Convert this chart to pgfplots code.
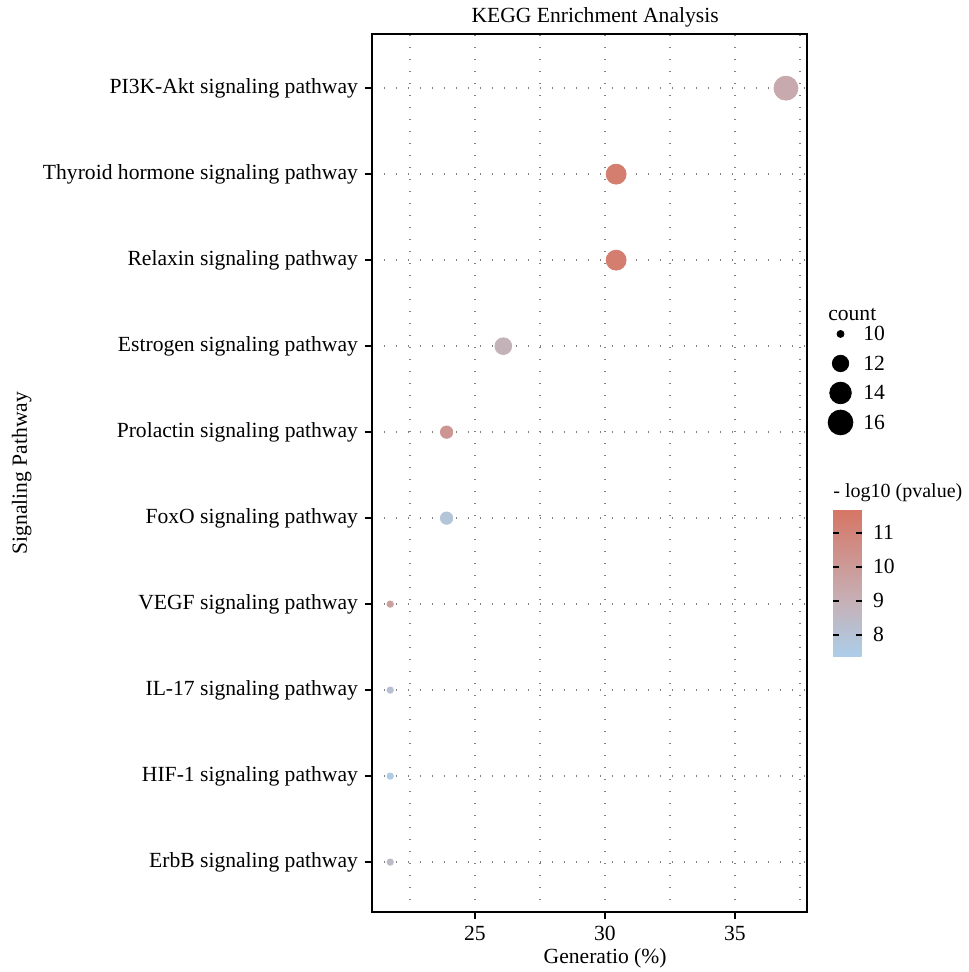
\documentclass[border=0pt]{standalone}
\usepackage{pgfplots}
\usepackage{pgfplotstable}
\pgfplotsset{compat=1.18}
\usepackage{fontspec}
\setmainfont{Liberation Serif}
\pgfplotstableread{
x y count logp r
21.74 0 10 8.5 1.6
21.74 1 10 7.5 1.6
21.74 2 10 8.1 1.6
21.74 3 10 9.8 1.6
23.91 4 11 7.9 3.1
23.91 5 11 10.2 3.1
26.09 6 12 8.9 4.2
30.43 7 14 11.3 5.0
30.43 8 14 11.3 5.0
36.96 9 17 9.3 6.0
}\datatable
\begin{document}
\begin{tikzpicture}
\begin{axis}[name=ax, scale only axis, width=217.5pt, height=439pt,
  font=\fontsize{10.8}{12}\selectfont,
  /pgf/number format/assume math mode=true,
  xmin=21.04, xmax=37.77, ymin=-0.58, ymax=9.63,
  xtick={25,30,35}, minor xtick={22.5,27.5,32.5,37.5},
  ytick={0,...,9},
  yticklabels={ErbB signaling pathway, HIF-1 signaling pathway, IL-17 signaling pathway, VEGF signaling pathway, FoxO signaling pathway, Prolactin signaling pathway, Estrogen signaling pathway, Relaxin signaling pathway, Thyroid hormone signaling pathway, PI3K-Akt signaling pathway},
  xmajorgrids, xminorgrids, ymajorgrids,
  grid style={gray, line width=0.7pt, dash pattern=on 0.7pt off 5.3pt},
  minor grid style={gray, line width=0.7pt, dash pattern=on 0.7pt off 5.3pt},
  axis line style={line width=0.8pt},
  tick style={black, line width=0.8pt},
  major tick length=3.5pt, minor tick length=0pt,
  tick align=outside, xtick pos=bottom, ytick pos=left,
  every axis title shift=0pt,
  title={KEGG Enrichment Analysis},
  title style={at={(axis description cs:0.513,1.0194)}, anchor=center},
  xlabel={Generatio (\%)},
  xlabel style={at={(axis description cs:0.536,-0.0524)}, anchor=center},
  ylabel={Signaling Pathway},
  ylabel style={at={(axis description cs:-0.805,0.5)}, anchor=center, rotate=0},
  colormap={kegg}{rgb255(0cm)=(171,206,234) rgb255(3.8cm)=(198,176,182) rgb255(10cm)=(214,117,100)},
  point meta min=7.35, point meta max=11.7,
  colorbar,
  colorbar style={at={(1.06,0.459)}, anchor=north west, width=14.5pt, height=74pt,
    ytick={8,9,10,11}, yticklabel pos=right, ytick pos=both,
    axis line style={draw=none}, tick style={black, line width=0.7pt},
    major tick length=3pt, tick align=inside,
    yticklabel style={xshift=2pt},
    font=\fontsize{10.8}{12}\selectfont,
    /pgf/number format/assume math mode=true},
  legend style={at={(1.05,0.680)}, anchor=north west, draw=none, fill=none,
    row sep=4pt, nodes={inner sep=0pt, text height=7.5pt, text depth=0pt},
    font=\fontsize{10.8}{12}\selectfont},
  legend cell align=left,
  legend image code/.code={\begin{pgfinterruptboundingbox}\draw[mark repeat=1,#1] plot coordinates {(2.7pt,-0.3pt)};\end{pgfinterruptboundingbox}\path[draw=none,fill=none] (0,-1pt) rectangle (14.1pt,7pt);},
  clip=false,
]
\addplot[scatter, only marks, mark=*, forget plot,
  scatter src=explicit,
  scatter/use mapped color={draw=mapped color, fill=mapped color},
  visualization depends on={\thisrow{r} \as \rr},
  scatter/@pre marker code/.append style={/tikz/mark size=\rr pt}]
  table[x=x, y=y, meta=logp] {\datatable};
\addlegendimage{only marks, mark=*, black, mark size=1.75pt}
\addlegendentry{10}
\addlegendimage{only marks, mark=*, black, mark size=4.1pt}
\addlegendentry{12}
\addlegendimage{only marks, mark=*, black, mark size=5.4pt}
\addlegendentry{14}
\addlegendimage{only marks, mark=*, black, mark size=6.2pt}
\addlegendentry{16}
\node[anchor=west, inner sep=0pt] at (rel axis cs:1.048,0.681) {count};
\node[anchor=west, inner sep=0pt, font=\fontsize{10}{12}\selectfont] at (rel axis cs:1.06,0.478) {- log10 (pvalue)};
\end{axis}
\pgfresetboundingbox
\path ([xshift=-186pt, yshift=-30pt]ax.south west) rectangle ([xshift=81pt, yshift=17pt]ax.north east);
\end{tikzpicture}
\end{document}
